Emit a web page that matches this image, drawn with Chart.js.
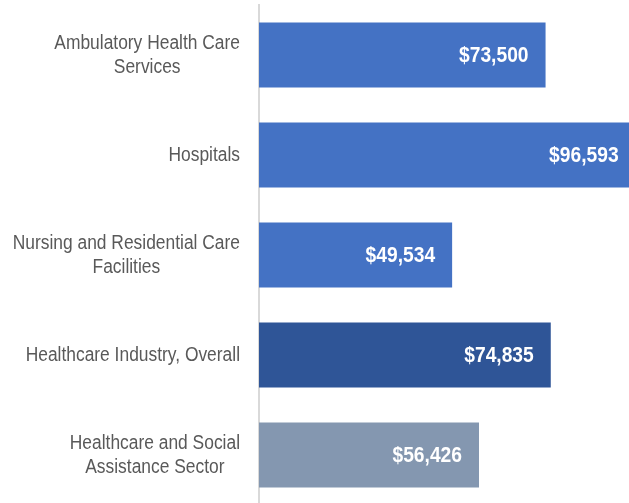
<!DOCTYPE html>
<html>
<head>
<meta charset="utf-8">
<script src="https://cdn.jsdelivr.net/npm/chart.js@4/dist/chart.umd.min.js"></script>
<style>
html,body{margin:0;padding:0;background:#fff;overflow:hidden;}
#wrap{position:absolute;left:0;top:0;width:629px;height:505px;}
</style>
</head>
<body>
<div id="wrap"><canvas id="c"></canvas></div>
<script>
const categories = [
  ["Ambulatory Health Care", "Services"],
  ["Hospitals"],
  ["Nursing and Residential Care", "Facilities"],
  ["Healthcare Industry, Overall"],
  ["Healthcare and Social", "Assistance Sector"]
];
const salaries = [73500, 96593, 49534, 74835, 56426];
const valueLabels = ["$73,500", "$96,593", "$49,534", "$74,835", "$56,426"];
const barColors = ["#4472C4", "#4472C4", "#4472C4", "#2F5597", "#8497B0"];

const FONT = '"Liberation Sans", Arial, sans-serif';
const CAT_SX = 0.87;   // horizontal condensing to mimic a narrow face
const VAL_SX = 0.855;

function drawCondensed(ctx, text, x, y, sx) {
  ctx.save();
  ctx.translate(x, y);
  ctx.scale(sx, 1);
  ctx.fillText(text, 0, 0);
  ctx.restore();
}

const labelPlugin = {
  id: 'customLabels',
  afterDatasetsDraw(chart) {
    const ctx = chart.ctx;
    const yScale = chart.scales.y;
    const meta = chart.getDatasetMeta(0);
    ctx.save();
    ctx.font = '20px ' + FONT;
    ctx.fillStyle = '#595959';
    ctx.textBaseline = 'middle';
    ctx.textAlign = 'center';
    const right = yScale.right - 19;
    const lh = 24;
    categories.forEach((lines, i) => {
      const cy = yScale.getPixelForTick(i);
      const w = Math.max(...lines.map(l => ctx.measureText(l).width)) * CAT_SX;
      const cx = right - w / 2;
      const y0 = cy - (lines.length - 1) * lh / 2;
      lines.forEach((l, j) => drawCondensed(ctx, l, cx, y0 + j * lh, CAT_SX));
    });
    ctx.font = 'bold 22.5px ' + FONT;
    ctx.fillStyle = '#ffffff';
    ctx.textAlign = 'right';
    meta.data.forEach((bar, i) => {
      drawCondensed(ctx, valueLabels[i], bar.x - 17, bar.y + 1, VAL_SX);
    });
    ctx.restore();
  }
};

new Chart(document.getElementById('c'), {
  type: 'bar',
  data: {
    labels: categories,
    datasets: [{
      data: salaries,
      backgroundColor: barColors,
      borderWidth: 0,
      barPercentage: 0.65,
      categoryPercentage: 1.0
    }]
  },
  options: {
    indexAxis: 'y',
    responsive: true,
    maintainAspectRatio: false,
    animation: false,
    layout: { padding: { top: 5, bottom: 0, left: 0, right: 0 } },
    plugins: { legend: { display: false }, tooltip: { enabled: false } },
    scales: {
      x: { display: false, min: 0, max: 94900 },
      y: {
        afterFit(scale) { scale.width = 259; },
        grid: { display: false, drawTicks: false },
        border: { display: true, color: '#D9D9D9', width: 2 },
        ticks: { display: false }
      }
    }
  },
  plugins: [labelPlugin]
});
</script>
</body>
</html>
